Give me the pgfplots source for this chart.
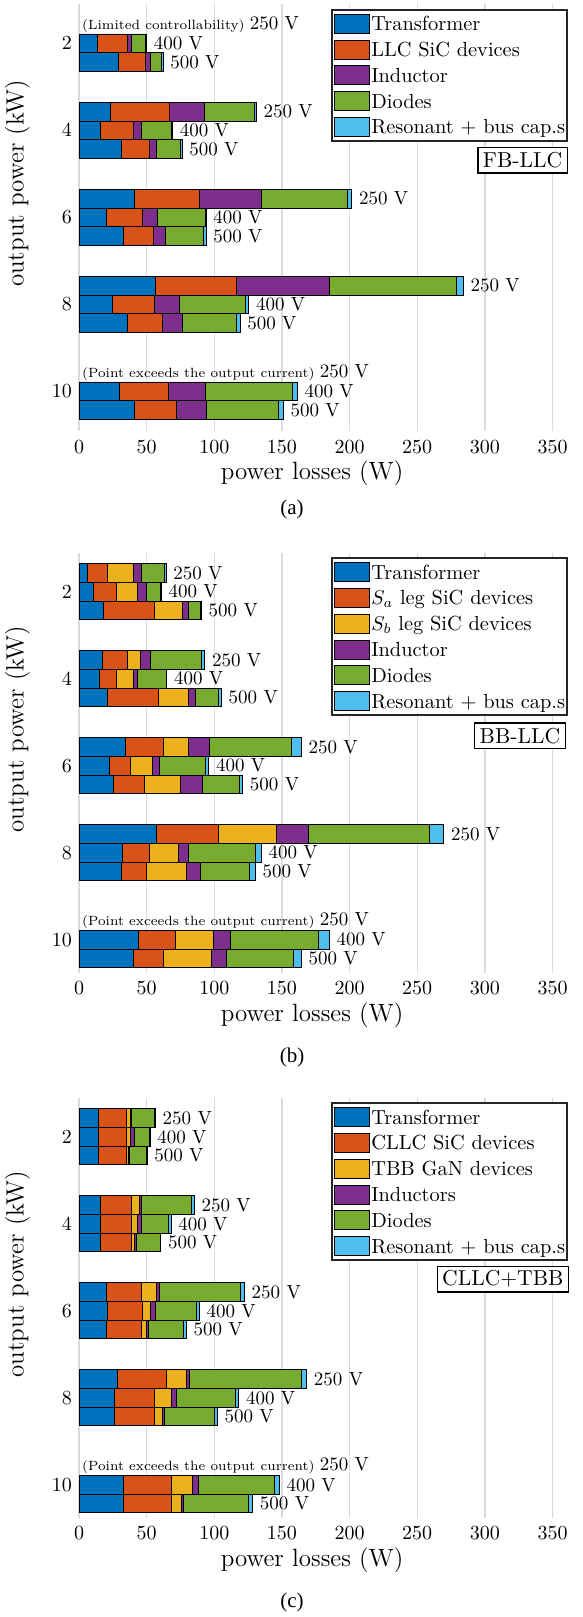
\documentclass[border=0pt]{standalone}
\usepackage{fontspec}
\usepackage{pgfplots}
\pgfplotsset{compat=1.18}
\newfontfamily\capfont{Liberation Serif}
\definecolor{cT}{HTML}{0072BD}
\definecolor{cO}{HTML}{D95319}
\definecolor{cY}{HTML}{EDB120}
\definecolor{cP}{HTML}{7E2F8E}
\definecolor{cG}{HTML}{77AC30}
\definecolor{cC}{HTML}{4DBEEE}
\newcommand{\sm}{\fontsize{6.7}{8}\selectfont}
\tikzset{
  lbl/.style={anchor=west, inner sep=0pt, xshift=3.5pt, font=\fontsize{9.5}{11}\selectfont},
  boxlbl/.style={draw=black, line width=0.6pt, fill=white, anchor=north east,
  font=\fontsize{10.8}{12}\selectfont, inner xsep=2.5pt, inner ysep=0pt, minimum height=12.8pt}}
\pgfplotsset{
  seg/.style={fill=#1, draw=black, line width=0.4pt,
    legend image code/.code={\draw[fill=#1, draw=black, line width=0.5pt] (0pt,-4.75pt) rectangle (17.8pt,4.75pt);}},
  panel/.style={
    xbar stacked, scale only axis, width=246.9pt, height=210.1pt,
    anchor=north west,
    xmin=0, xmax=365, ymin=1.1, ymax=10.76, y dir=reverse,
    bar width=0.43, ytick={2,4,6,8,10}, xtick={0,50,...,350},
    xmajorgrids=true, ymajorgrids=false,
    major grid style={draw=black!14, line width=0.7pt},
    axis line style={draw=none}, major tick length=0pt,
    tick label style={font=\fontsize{10}{12}\selectfont},
    xticklabel style={yshift=-1pt},
    xlabel={power losses (W)}, ylabel={output power (kW)},
    label style={font=\fontsize{12.5}{15}\selectfont},
    xlabel style={at={(axis description cs:0.472,0)}, anchor=center, yshift=-21pt},
    ylabel style={at={(axis description cs:0,0.58)}, anchor=center, yshift=30.75pt},
    legend cell align=left,
    legend style={at={(axis description cs:1,1)}, anchor=north east,
      xshift=-2.4pt, yshift=-2.4pt, draw=black!85, line width=0.9pt, fill=white,
      inner sep=1pt, font=\fontsize{10.2}{12}\selectfont, row sep=1pt, column sep=0.5pt,
      nodes={inner sep=0pt, text height=9.4pt, text depth=2.5pt}},
  },
}
\begin{document}
\begin{tikzpicture}
\useasboundingbox (0,0) rectangle (291.5pt,-808.5pt);
% ---------------- (a) FB-LLC ----------------
\begin{axis}[panel, at={(39.5pt,-2.075pt)}, ymax=10.92, height=213.58pt]
\addplot[seg=cT] coordinates {(0,1.57) (13.8,2) (29.1,2.43) (22.9,3.57) (15.8,4) (31.0,4.43) (40.9,5.57) (20.0,6) (32.8,6.43) (56.2,7.57) (24.9,8) (36.0,8.43) (0,9.57) (29.8,10) (40.9,10.43)};
\addlegendentry{Transformer}
\addplot[seg=cO] coordinates {(0,1.57) (22.2,2) (19.9,2.43) (43.8,3.57) (24.1,4) (21.0,4.43) (48.0,5.57) (26.6,6) (22.1,6.43) (59.8,7.57) (31.0,8) (25.8,8.43) (0,9.57) (36.2,10) (30.8,10.43)};
\addlegendentry{LLC SiC devices}
\addplot[seg=cP] coordinates {(0,1.57) (2.9,2) (4.0,2.43) (26.2,3.57) (6.2,4) (5.1,4.43) (46.1,5.57) (11.3,6) (8.9,6.43) (69.0,7.57) (18.2,8) (14.3,8.43) (0,9.57) (27.1,10) (22.4,10.43)};
\addlegendentry{Inductor}
\addplot[seg=cG] coordinates {(0,1.57) (10.4,2) (8.1,2.43) (37.1,3.57) (22.4,4) (18.0,4.43) (63.3,5.57) (35.2,6) (28.3,6.43) (93.7,7.57) (48.8,8) (39.9,8.43) (0,9.57) (64.8,10) (53.4,10.43)};
\addlegendentry{Diodes}
\addplot[seg=cC] coordinates {(0,1.57) (0.5,2) (1.0,2.43) (1.0,3.57) (0.5,4) (1.0,4.43) (3.2,5.57) (0.7,6) (1.7,6.43) (5.3,7.57) (2.5,8) (3.0,8.43) (0,9.57) (3.4,10) (3.5,10.43)};
\addlegendentry{Resonant + bus cap.s}
\node[lbl, xshift=-2.1pt] at (axis cs:0,1.57) {{\sm (Limited controllability)\ }250 V};
\node[lbl] at (axis cs:49.8,2) {400 V};
\node[lbl] at (axis cs:62.1,2.43) {500 V};
\node[lbl] at (axis cs:131.0,3.57) {250 V};
\node[lbl] at (axis cs:69.0,4) {400 V};
\node[lbl] at (axis cs:76.1,4.43) {500 V};
\node[lbl] at (axis cs:201.5,5.57) {250 V};
\node[lbl] at (axis cs:93.8,6) {400 V};
\node[lbl] at (axis cs:93.8,6.43) {500 V};
\node[lbl] at (axis cs:284.0,7.57) {250 V};
\node[lbl] at (axis cs:125.4,8) {400 V};
\node[lbl] at (axis cs:119.0,8.43) {500 V};
\node[lbl, xshift=-2.1pt] at (axis cs:0,9.57) {{\sm (Point exceeds the output current)\ }250 V};
\node[lbl] at (axis cs:161.3,10) {400 V};
\node[lbl] at (axis cs:151.0,10.43) {500 V};
\end{axis}
% ---------------- (b) BB-LLC ----------------
\begin{axis}[panel, at={(39.5pt,-276.275pt)}]
\addplot[seg=cT] coordinates {(6.2,1.57) (10.8,2) (18.2,2.43) (17.2,3.57) (15.0,4) (20.9,4.43) (34.0,5.57) (22.2,6) (25.1,6.43) (57.4,7.57) (32.0,8) (31.0,8.43) (0,9.57) (44.1,10) (40.1,10.43)};
\addlegendentry{Transformer}
\addplot[seg=cO] coordinates {(14.7,1.57) (16.8,2) (37.7,2.43) (18.8,3.57) (12.8,4) (38.0,4.43) (28.1,5.57) (15.7,6) (22.9,6.43) (45.8,7.57) (20.0,8) (19.0,8.43) (0,9.57) (27.3,10) (22.0,10.43)};
\addlegendentry{$S_a$ leg SiC devices}
\addplot[seg=cY] coordinates {(19.2,1.57) (15.7,2) (20.2,2.43) (9.1,3.57) (12.3,4) (22.1,4.43) (18.9,5.57) (16.3,6) (27.1,6.43) (42.9,7.57) (21.2,8) (29.1,8.43) (0,9.57) (27.6,10) (35.9,10.43)};
\addlegendentry{$S_b$ leg SiC devices}
\addplot[seg=cP] coordinates {(6.2,1.57) (6.7,2) (4.9,2.43) (7.9,3.57) (3.0,4) (5.0,4.43) (15.1,5.57) (4.9,6) (16.3,6.43) (23.1,7.57) (7.8,8) (10.3,8.43) (0,9.57) (13.1,10) (10.9,10.43)};
\addlegendentry{Inductor}
\addplot[seg=cG] coordinates {(17.0,1.57) (9.9,2) (8.4,2.43) (37.4,3.57) (21.2,4) (17.2,4.43) (61.0,5.57) (34.2,6) (26.8,6.43) (89.7,7.57) (49.3,8) (36.7,8.43) (0,9.57) (65.2,10) (49.5,10.43)};
\addlegendentry{Diodes}
\addplot[seg=cC] coordinates {(1.0,1.57) (0.9,2) (1.0,2.43) (2.5,3.57) (0.5,4) (2.0,4.43) (7.2,5.57) (2.5,6) (2.7,6.43) (10.7,7.57) (4.4,8) (4.2,8.43) (0,9.57) (7.7,10) (5.9,10.43)};
\addlegendentry{Resonant + bus cap.s}
\node[lbl] at (axis cs:64.3,1.57) {250 V};
\node[lbl] at (axis cs:60.8,2) {400 V};
\node[lbl] at (axis cs:90.4,2.43) {500 V};
\node[lbl] at (axis cs:92.9,3.57) {250 V};
\node[lbl] at (axis cs:64.8,4) {400 V};
\node[lbl] at (axis cs:105.2,4.43) {500 V};
\node[lbl] at (axis cs:164.3,5.57) {250 V};
\node[lbl] at (axis cs:95.8,6) {400 V};
\node[lbl] at (axis cs:120.9,6.43) {500 V};
\node[lbl] at (axis cs:269.6,7.57) {250 V};
\node[lbl] at (axis cs:134.7,8) {400 V};
\node[lbl] at (axis cs:130.3,8.43) {500 V};
\node[lbl, xshift=-2.1pt] at (axis cs:0,9.57) {{\sm (Point exceeds the output current)\ }250 V};
\node[lbl] at (axis cs:185.0,10) {400 V};
\node[lbl] at (axis cs:164.3,10.43) {500 V};
\end{axis}
% ---------------- (c) CLLC+TBB ----------------
\begin{axis}[panel, at={(39.5pt,-548.775pt)}]
\addplot[seg=cT] coordinates {(14.3,1.57) (14.3,2) (14.3,2.43) (16.0,3.57) (16.0,4) (16.0,4.43) (20.2,5.57) (21.2,6) (20.2,6.43) (28.3,7.57) (26.1,8) (26.1,8.43) (0,9.57) (33.0,10) (33.0,10.43)};
\addlegendentry{Transformer}
\addplot[seg=cO] coordinates {(20.9,1.57) (20.9,2) (20.9,2.43) (22.9,3.57) (22.9,4) (22.9,4.43) (25.9,5.57) (25.8,6) (25.9,6.43) (36.0,7.57) (29.8,8) (29.8,8.43) (0,9.57) (35.0,10) (35.0,10.43)};
\addlegendentry{CLLC SiC devices}
\addplot[seg=cY] coordinates {(2.5,1.57) (2.7,2) (1.0,2.43) (5.9,3.57) (4.2,4) (1.7,4.43) (11.0,5.57) (5.7,6) (3.4,6.43) (14.8,7.57) (12.3,8) (5.7,8.43) (0,9.57) (16.0,10) (7.9,10.43)};
\addlegendentry{TBB GaN devices}
\addplot[seg=cP] coordinates {(0.7,1.57) (3.2,2) (1.0,2.43) (1.5,3.57) (3.2,4) (1.8,4.43) (2.3,5.57) (3.5,6) (2.0,6.43) (2.2,7.57) (4.0,8) (1.7,8.43) (0,9.57) (4.2,10) (1.4,10.43)};
\addlegendentry{Inductors}
\addplot[seg=cG] coordinates {(17.0,1.57) (10.6,2) (12.3,2.43) (37.0,3.57) (20.0,4) (17.5,4.43) (60.1,5.57) (30.5,6) (25.8,6.43) (83.0,7.57) (43.1,8) (36.9,8.43) (0,9.57) (55.9,10) (48.1,10.43)};
\addlegendentry{Diodes}
\addplot[seg=cC] coordinates {(1.0,1.57) (0.8,2) (0.7,2.43) (1.9,3.57) (1.7,4) (0.5,4.43) (2.7,5.57) (2.2,6) (2.0,6.43) (3.9,7.57) (2.7,8) (2.0,8.43) (0,9.57) (3.9,10) (2.9,10.43)};
\addlegendentry{Resonant + bus cap.s}
\node[lbl] at (axis cs:56.4,1.57) {250 V};
\node[lbl] at (axis cs:52.5,2) {400 V};
\node[lbl] at (axis cs:50.2,2.43) {500 V};
\node[lbl] at (axis cs:85.2,3.57) {250 V};
\node[lbl] at (axis cs:68.0,4) {400 V};
\node[lbl] at (axis cs:60.4,4.43) {500 V};
\node[lbl] at (axis cs:122.2,5.57) {250 V};
\node[lbl] at (axis cs:88.9,6) {400 V};
\node[lbl] at (axis cs:79.3,6.43) {500 V};
\node[lbl] at (axis cs:168.2,7.57) {250 V};
\node[lbl] at (axis cs:118.0,8) {400 V};
\node[lbl] at (axis cs:102.2,8.43) {500 V};
\node[lbl, xshift=-2.1pt] at (axis cs:0,9.57) {{\sm (Point exceeds the output current)\ }250 V};
\node[lbl] at (axis cs:148.0,10) {400 V};
\node[lbl] at (axis cs:128.3,10.43) {500 V};
\end{axis}
% box labels and captions
\node[boxlbl] at (283.85pt,-73.35pt) {FB-LLC};
\node[boxlbl] at (282.85pt,-361.15pt) {BB-LLC};
\node[boxlbl] at (284.5pt,-632.85pt) {CLLC+TBB};
\node[font=\capfont\fontsize{10.5}{12}\selectfont] at (146pt,-254.65pt) {(a)};
\node[font=\capfont\fontsize{10.5}{12}\selectfont] at (146pt,-528.85pt) {(b)};
\node[font=\capfont\fontsize{10.5}{12}\selectfont] at (146pt,-801.35pt) {(c)};
\end{tikzpicture}
\end{document}
